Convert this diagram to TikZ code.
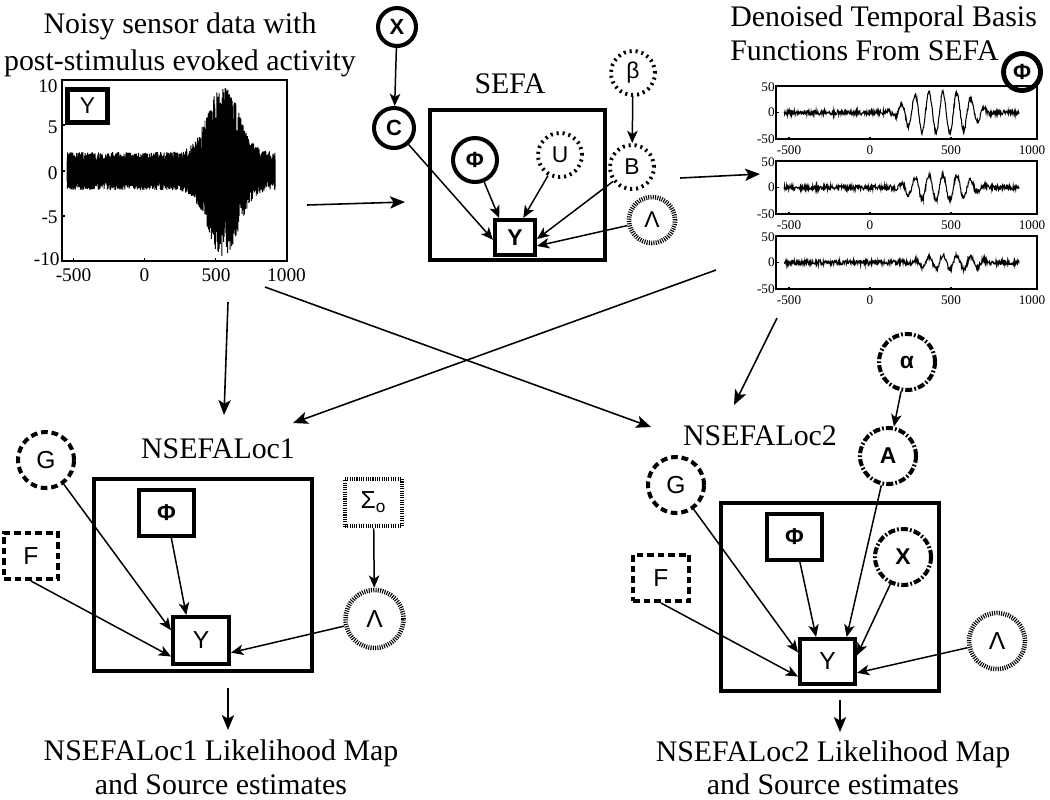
\documentclass[tikz,border=0pt]{standalone}
\usepackage{fontspec}
\setmainfont{Liberation Serif}
\newfontfamily\nodefont{Liberation Sans}
\usetikzlibrary{arrows.meta}
\begin{document}
\begin{tikzpicture}[x=0.02cm,y=-0.02cm,
  every node/.style={inner sep=0pt},
  conn/.style={line width=0.85pt,-{Stealth[length=7pt,width=6pt,inset=1.8pt]}},
  bigarr/.style={line width=0.9pt,-{Stealth[length=8.5pt,width=7pt,inset=2pt]}},
  title/.style={font=\fontsize{17}{21}\selectfont},
  ticklab/.style={font=\fontsize{11}{11}\selectfont},
  smalltick/.style={font=\fontsize{7.5}{7.5}\selectfont},
  axisline/.style={line width=0.6pt},
  signal/.style={line width=0.5pt},
  nfs/.style={font=\nodefont\fontsize{13}{13}\selectfont},
  nfsb/.style={font=\nodefont\bfseries\fontsize{12.5}{12.5}\selectfont},
  nfl/.style={font=\nodefont\fontsize{14}{14}\selectfont},
  nflb/.style={font=\nodefont\bfseries\fontsize{13}{13}\selectfont},
  solidcirc/.style={circle,draw,line width=2.3pt},
  solidrect/.style={rectangle,draw,line width=2.3pt},
  platebox/.style={rectangle,draw,line width=2.5pt},
  sparsedash/.style={circle,draw,line width=2.2pt,dash pattern=on 1.2pt off 2.2pt},
  densedash/.style={draw,line width=2.6pt,dash pattern=on 0.6pt off 0.7pt},
  bigdash/.style={draw,line width=2.3pt,dash pattern=on 3.8pt off 2.2pt},
  dashdotc/.style={circle,draw,line width=2.3pt,dash pattern=on 4pt off 1.2pt on 1pt off 1.2pt}
]
\useasboundingbox (0,0) rectangle (1050,799);
\pgfmathsetseed{7}

% ---------------- titles ----------------
\node[title,align=center,anchor=north] (t1) at (180,12.3)
  {Noisy sensor data with\\post-stimulus evoked activity};
\node[font=\fontsize{17}{19.3}\selectfont,align=left,anchor=north west] (t2) at (730,5.5)
  {Denoised Temporal Basis\\Functions From SEFA};

% ---------------- plot 1 ----------------
\draw[axisline] (62,80) rectangle (287,261);
\foreach \t in {-500,0,500} \draw[axisline] ({144.5+0.142*\t},261) -- ++(0,-3);
\foreach \yy in {125,171,216} \draw[axisline] (62,\yy) -- ++(3,0);
\node[ticklab] at (73.5,275) {-500};
\node[ticklab] at (144.5,275) {0};
\node[ticklab] at (216,275) {500};
\node[ticklab] at (286.5,275) {1000};
\node[ticklab,anchor=east] at (58,86) {10};
\node[ticklab,anchor=east] at (58,127) {5};
\node[ticklab,anchor=east] at (58,173) {0};
\node[ticklab,anchor=east] at (58,217) {-5};
\node[ticklab,anchor=east] at (60,259) {-10};
\draw[signal,line width=0.55pt] plot[samples=1466,domain=-545:920,variable=\t]
  ({144.5+0.142*\t},{171-9.05*(2.1+7.5*exp(-min(30,((\t-555)/150)*((\t-555)/150))))*(0.45+0.55*rnd)*cos(180*mod(\t,2))});
\node[solidrect,line width=2.8pt,minimum width=0.8cm,minimum height=0.66cm,font=\nodefont\fontsize{13}{13}\selectfont] (pY) at (87.5,106) {Y};

% ---------------- panels ----------------
\foreach \top/\mid/\bot/\c/\s/\A in {86/112.5/139/430/250/38, 161/187.5/214/430/230/24, 236/262.5/289/500/220/13}{
  \draw[axisline] (776,\top) rectangle (1037,\bot);
  \foreach \t in {-500,0,500} \draw[axisline] ({870+0.162*\t},\bot) -- ++(0,-2.5);
  \draw[axisline] (776,\mid) -- ++(2.5,0);
  \node[smalltick,anchor=east] at (775,\top+1) {50};
  \node[smalltick,anchor=east] at (775,\mid) {0};
  \node[smalltick,anchor=east] at (775,\bot) {-50};
  \node[smalltick] at (789,\bot+11) {-500};
  \node[smalltick] at (870,\bot+11) {0};
  \node[smalltick] at (951,\bot+11) {500};
  \node[smalltick] at (1032,\bot+11) {1000};
  \draw[signal,line width=0.6pt] plot[samples=560,domain=-530:920,variable=\t]
    ({870+0.162*\t},{\mid-0.53*(\A*exp(-min(30,((\t-\c)/\s)*((\t-\c)/\s)*((\t-\c)/\s)*((\t-\c)/\s)))*sin(4.2*\t)+4.5*rand)});
}
\node[solidcirc,line width=2.8pt,minimum size=0.74cm,nfsb] (pPhi) at (1022,72) {Φ};

% ---------------- SEFA ----------------
\node[title,anchor=base] (sefalab) at (510,93) {SEFA};
\node[platebox,minimum width=3.49cm,minimum height=2.99cm] (sbox) at (517.5,185) {};
\node[solidcirc,minimum size=0.76cm,nfsb] (sX) at (397,27) {X};
\node[solidcirc,minimum size=0.8cm,nfsb] (sC) at (394,128) {C};
\node[solidcirc,minimum size=0.88cm,nfsb] (sPhi) at (475,160) {Φ};
\node[sparsedash,minimum size=0.88cm,nfs] (sU) at (560,155) {U};
\node[sparsedash,minimum size=0.88cm,nfs] (sbeta) at (633,73) {β};
\node[sparsedash,minimum size=0.88cm,nfs] (sB) at (632,167) {B};
\node[densedash,circle,minimum size=0.92cm,nfs] (sL) at (652,220) {Λ};
\node[solidrect,minimum width=0.8cm,minimum height=0.7cm,nflb] (sY) at (515,237.5) {Y};
\draw[conn] (sX) -- (sC);
\draw[conn] (sC) -- (sY.186);
\draw[conn] (sPhi) -- (sY.129);
\draw[conn] (sU) -- (sY.67);
\draw[conn] (sbeta) -- (sB);
\draw[conn] (sB) -- (sY.356);
\draw[conn] (sL) -- (sY.339);

% ---------------- NSEFALoc1 ----------------
\node[title,anchor=base] (n1lab) at (218,458) {NSEFALoc1};
\node[platebox,minimum width=4.36cm,minimum height=3.84cm] (box1) at (203,575) {};
\node[bigdash,circle,minimum size=1.12cm,nfl] (G1) at (46,460) {G};
\node[bigdash,rectangle,minimum width=1.08cm,minimum height=0.92cm,nfl] (F1) at (31,556) {F};
\node[solidrect,minimum width=1.1cm,minimum height=0.92cm,nflb] (P1) at (166.5,513) {Φ};
\node[solidrect,minimum width=1.12cm,minimum height=0.94cm,nfl] (Y1) at (201,640.5) {Y};
\node[densedash,rectangle,minimum width=1.14cm,minimum height=0.94cm,nfl] (S1) at (373.5,502.5) {Σ\textsubscript{o}};
\node[densedash,circle,minimum size=1.16cm,nfl] (L1) at (374.5,619) {Λ};
\draw[conn] (G1) -- (Y1.161);
\draw[conn] (F1.south) -- (Y1.208);
\draw[conn] (P1) -- (Y1.120);
\draw[conn] (S1) -- (L1);
\draw[conn] (L1) -- (Y1.338);

% ---------------- NSEFALoc2 ----------------
\node[title,anchor=base] (n2lab) at (760,445) {NSEFALoc2};
\node[platebox,minimum width=4.36cm,minimum height=3.76cm] (box2) at (830,597) {};
\node[bigdash,circle,minimum size=1.12cm,nfl] (G2) at (676,485) {G};
\node[dashdotc,minimum size=1.12cm,nflb] (al) at (907,362) {α};
\node[dashdotc,minimum size=1.12cm,nflb] (A2) at (888,456) {A};
\node[solidrect,minimum width=1.1cm,minimum height=0.92cm,nflb] (P2) at (794.5,537) {Φ};
\node[dashdotc,minimum size=1.12cm,nflb] (X2) at (903,557) {X};
\node[bigdash,rectangle,minimum width=1.12cm,minimum height=0.92cm,nfl] (F2) at (661,578) {F};
\node[solidrect,minimum width=1.1cm,minimum height=0.9cm,nfl] (Y2) at (827.5,661.5) {Y};
\node[densedash,circle,minimum size=1.12cm,nfl] (L2) at (997,641) {Λ};
\draw[conn] (al) -- (A2);
\draw[conn] (A2) -- (Y2.52);
\draw[conn] (G2) -- (Y2.163);
\draw[conn] (F2.south) -- (Y2.207);
\draw[conn] (P2) -- (Y2.115);
\draw[conn] (X2) -- (Y2.12);
\draw[conn] (L2) -- (Y2.339);

% ---------------- flow arrows ----------------
\coordinate (a1s) at (307,205); \coordinate (a1e) at (405,202);
\coordinate (a2s) at (680,178); \coordinate (a2e) at (760,174);
\coordinate (a3s) at (228,302); \coordinate (a3e) at (224,415);
\coordinate (a4s) at (265,287); \coordinate (a4e) at (651,427);
\coordinate (a5s) at (716,270); \coordinate (a5e) at (293,423);
\coordinate (a6s) at (777,318); \coordinate (a6e) at (734,405);
\coordinate (a7s) at (228,688); \coordinate (a7e) at (228,730);
\coordinate (a8s) at (840,700); \coordinate (a8e) at (840,732);
\draw[bigarr] (a1s) -- (a1e);
\draw[bigarr] (a2s) -- (a2e);
\draw[bigarr] (a3s) -- (a3e);
\draw[bigarr] (a4s) -- (a4e);
\draw[bigarr] (a5s) -- (a5e);
\draw[bigarr] (a6s) -- (a6e);
\draw[bigarr] (a7s) -- (a7e);
\draw[bigarr] (a8s) -- (a8e);

% ---------------- result texts ----------------
\node[font=\fontsize{17}{19.3}\selectfont,align=center,anchor=north] (r1) at (221,739.5)
  {NSEFALoc1 Likelihood Map\\and Source estimates};
\node[font=\fontsize{17}{18.8}\selectfont,align=center,anchor=north] (r2) at (833,740)
  {NSEFALoc2 Likelihood Map\\and Source estimates};
\end{tikzpicture}
\end{document}
